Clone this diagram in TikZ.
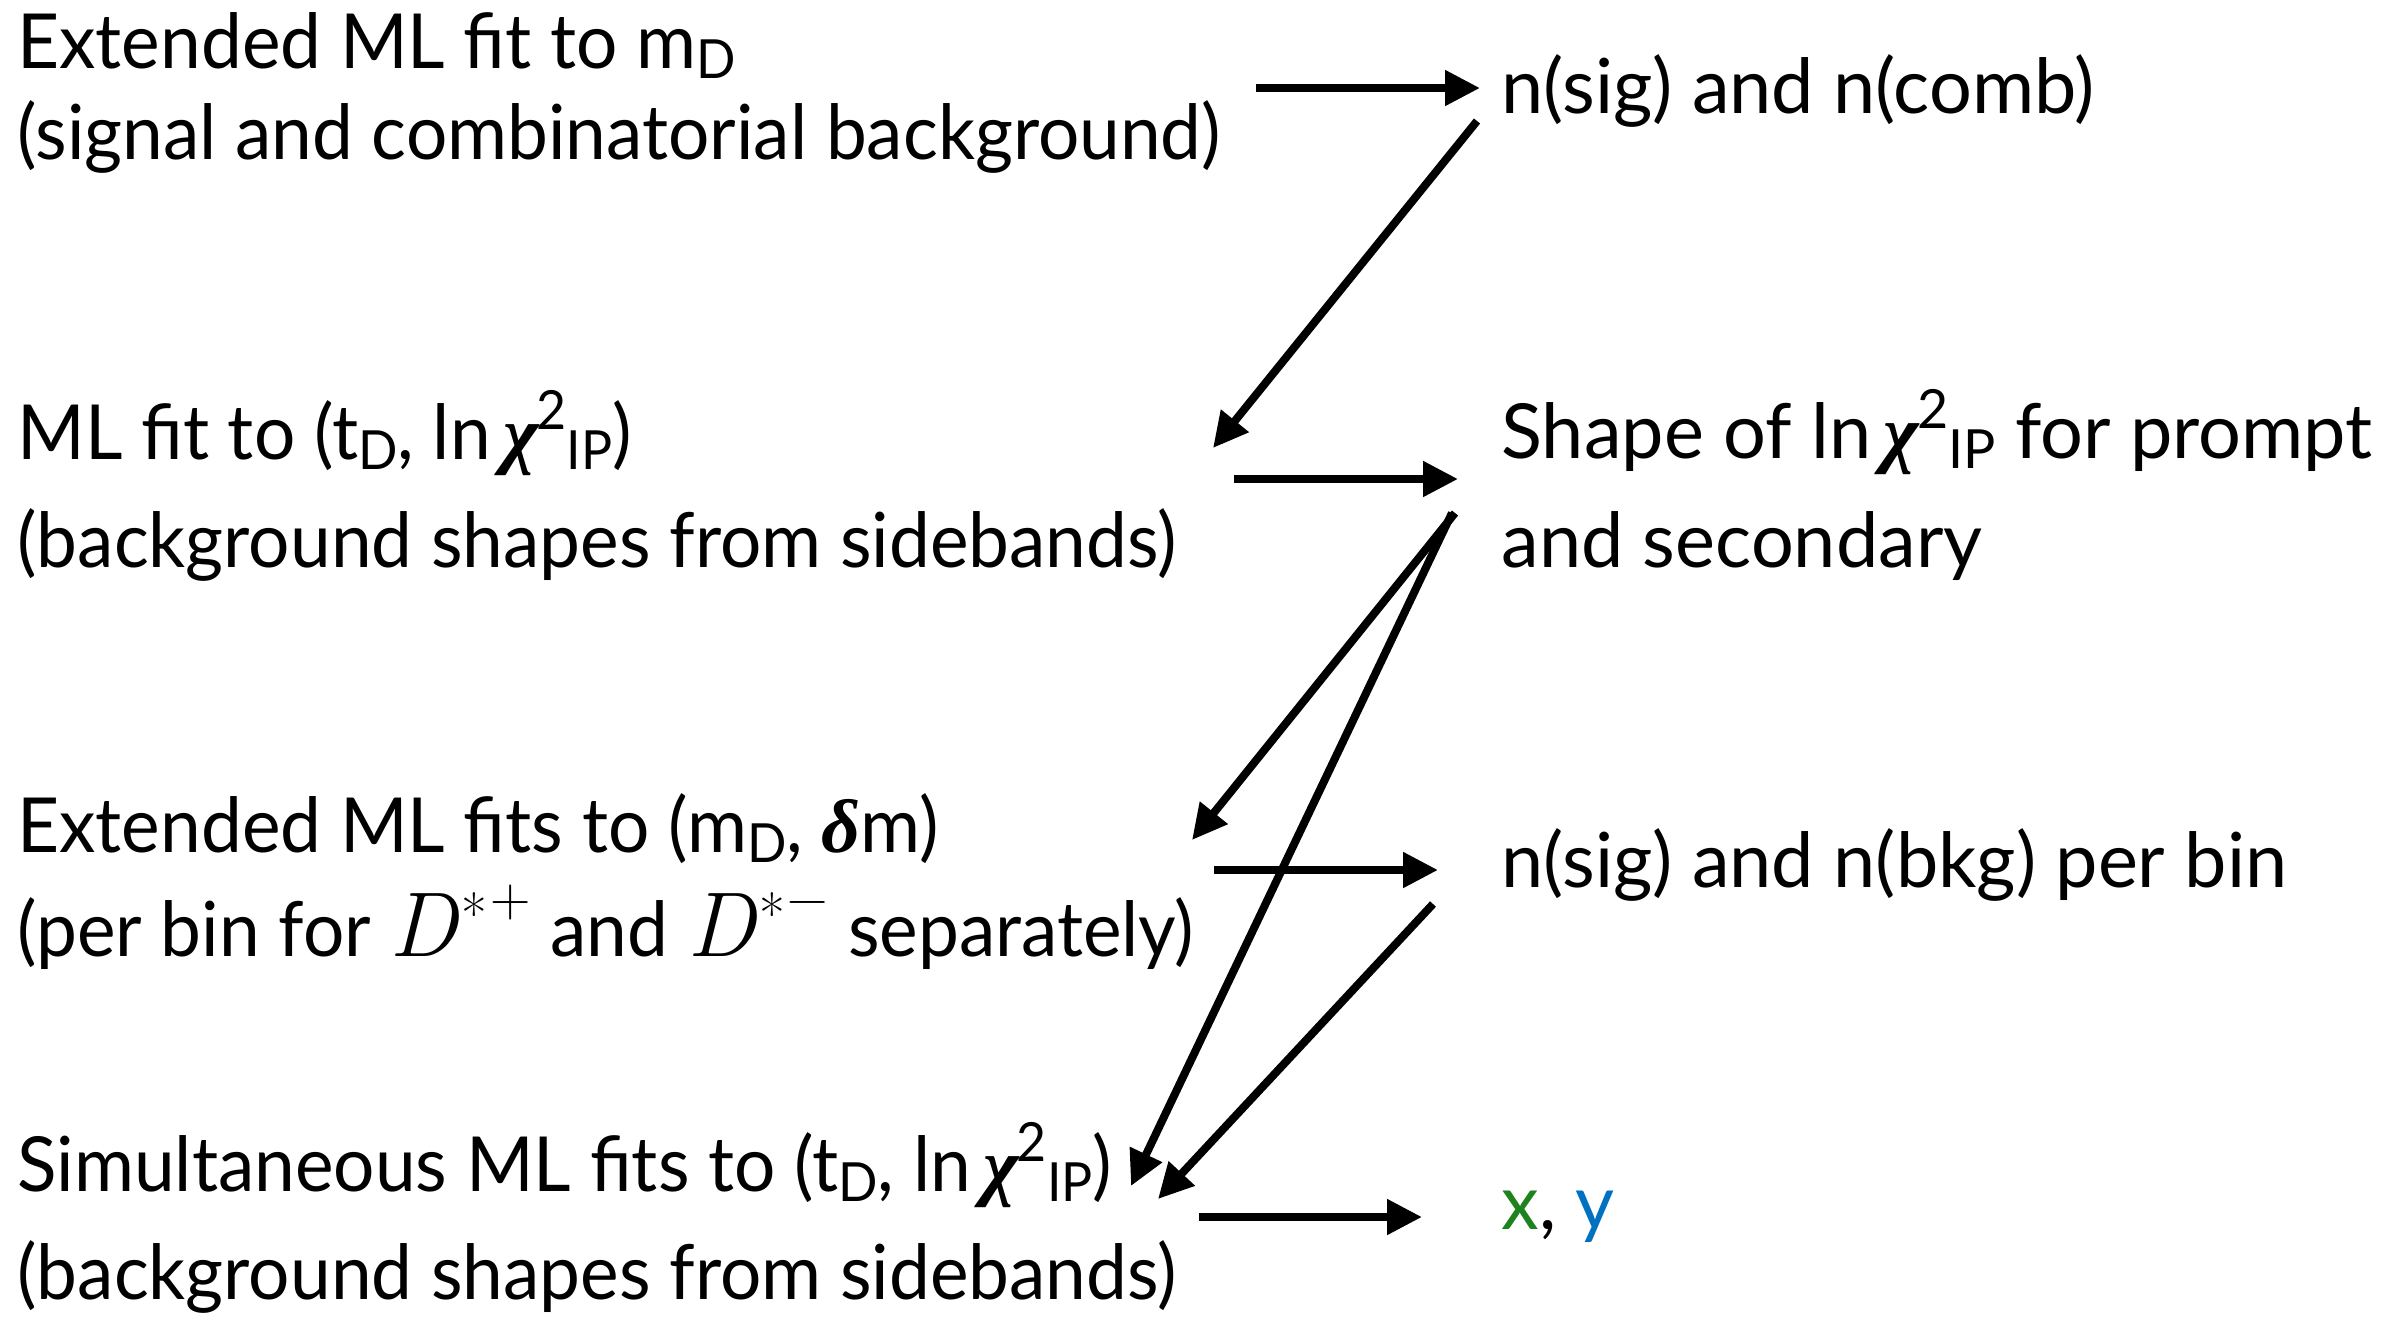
\documentclass[tikz,border=0pt]{standalone}
\usepackage{fontspec}
\setmainfont{Lato}[FakeStretch=0.96]
\newfontfamily\rfont{Lato}[FakeStretch=0.995]
\newfontfamily\grk{Liberation Serif}
\newfontfamily\lmr{Latin Modern Roman}
\usetikzlibrary{arrows.meta}
\definecolor{xgreen}{RGB}{30,130,30}
\definecolor{yblue}{RGB}{0,112,192}
\newcommand{\lo}[1]{\raisebox{-5pt}{\fontsize{27}{27}\selectfont #1}}
\newcommand{\hi}[1]{\raisebox{15pt}{\fontsize{27}{27}\selectfont #1}}
\newcommand{\chiIP}{{\grk\bfseries\itshape χ}\kern-1pt\hi{2}\lo{IP}}
\newcommand{\Dst}[1]{{\lmr\itshape\fontsize{46}{46}\selectfont D}\kern2pt\raisebox{11pt}{\lmr\fontsize{28}{28}\selectfont *}\kern1.5pt\raisebox{20pt}{\lmr\fontsize{28}{28}\selectfont #1}\kern10pt}
\begin{document}
\begin{tikzpicture}[x=0.5pt,y=-0.5pt,
  txt/.style={anchor=base west, inner sep=0pt, font=\fontsize{38}{46}\selectfont},
  rtxt/.style={txt, font=\rfont\fontsize{38}{46}\selectfont},
  arr/.style={line width=4pt, -{Triangle[length=17.5pt,width=17pt]}}]
\useasboundingbox (0,0) rectangle (2383,1319);
% left column
\node[txt] (l1a) at (17,68) {Extended ML fit to m\lo{D}};
\node[txt] (l1b) at (17,159) {(signal and combinatorial background)};
\node[txt] (l2a) at (17,459) {ML fit to (t\lo{D}, ln\,\chiIP)};
\node[txt] (l2b) at (17,567) {(background shapes from sidebands)};
\node[txt] (l3a) at (17,852) {Extended ML fits to (m\lo{D}, {\grk\bfseries\itshape δ}m)};
\node[txt] (l3b) at (17,956) {(per bin for \Dst{+} and \Dst{−} separately)};
\node[txt] (l4a) at (17,1191) {Simultaneous ML fits to (t\lo{D}, ln\,\chiIP)};
\node[txt] (l4b) at (17,1299) {(background shapes from sidebands)};
% right column
\node[rtxt] (r1) at (1501,113) {n(sig) and n(comb)};
\node[rtxt] (r2a) at (1501,458) {Shape of ln\,\chiIP{} for prompt};
\node[rtxt] (r2b) at (1501,567) {and secondary};
\node[rtxt] (r3) at (1501,887) {n(sig) and n(bkg) per bin};
\node[rtxt] (r4) at (1501,1229) {\textcolor{xgreen}{x}, \textcolor{yblue}{y}};
% connector ends
\coordinate (a1s) at (1256,88);  \coordinate (a1e) at (1480,88);
\coordinate (a2s) at (1477,121); \coordinate (a2e) at (1213,448);
\coordinate (a3s) at (1234,479); \coordinate (a3e) at (1458,479);
\coordinate (a4s) at (1455,513); \coordinate (a4e) at (1192,840);
\coordinate (a5s) at (1452,513); \coordinate (a5e) at (1131,1186);
\coordinate (a6s) at (1214,870); \coordinate (a6e) at (1438,870);
\coordinate (a7s) at (1433,904); \coordinate (a7e) at (1158,1199);
\coordinate (a8s) at (1199,1217); \coordinate (a8e) at (1422,1217);
\draw[arr] (a1s) -- (a1e);
\draw[arr] (a2s) -- (a2e);
\draw[arr] (a3s) -- (a3e);
\draw[arr] (a4s) -- (a4e);
\draw[arr] (a5s) -- (a5e);
\draw[arr] (a6s) -- (a6e);
\draw[arr] (a7s) -- (a7e);
\draw[arr] (a8s) -- (a8e);
\end{tikzpicture}
\end{document}
